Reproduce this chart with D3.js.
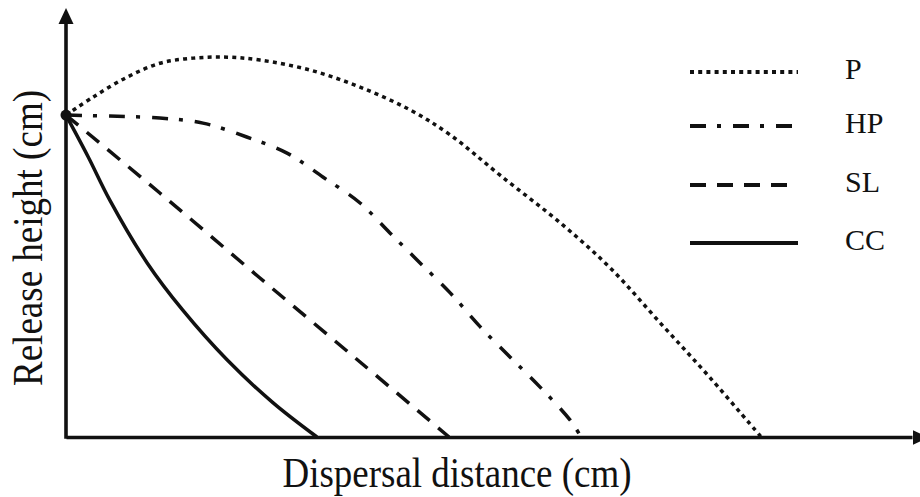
<!DOCTYPE html>
<html>
<head>
<meta charset="utf-8">
<script src="https://cdn.jsdelivr.net/npm/d3@7"></script>
<style>
  html, body { margin: 0; padding: 0; background: #fff; }
  text { font-family: "Liberation Serif", "Times New Roman", serif; fill: #111; }
</style>
</head>
<body>
<div id="chart_div"></div>
<script>
// curves: distance and height in relative units (release height = 100)
var P_x  = [0, 3.9, 8.8, 13.5, 18.3, 23.2, 27.9, 35.1, 42.3, 49.5, 55.3, 62.4, 71.5, 78.3, 85.5, 92.7, 100];
var P_y  = [100, 105.6, 111.8, 116.1, 117.7, 118.0, 117.1, 114.0, 108.7, 101.6, 93.8, 81.4, 65.8, 52.5, 35.4, 18.3, 0];
var HP_x = [0, 6.3, 13.5, 19.7, 26.0, 31.8, 37.0, 42.3, 46.6, 50.5, 55.3, 59.6, 63.9, 68.2, 72.5, 74.1];
var HP_y = [100, 99.7, 99.1, 97.5, 93.2, 88.2, 80.7, 72.7, 63.4, 55.0, 44.7, 34.2, 24.8, 15.5, 5.3, 0];
var SL_x = [0, 13.5, 27.9, 42.3, 55.1];
var SL_y = [100, 75.8, 49.4, 23.3, 0];
var CC_x = [0, 3.2, 6.3, 11.7, 16.8, 23.2, 29.8, 36.1];
var CC_y = [100, 87.0, 73.6, 54.0, 39.4, 23.9, 10.6, 0];

var series_names = ['P', 'HP', 'SL', 'CC'];
var series_x = [P_x, HP_x, SL_x, CC_x];
var series_y = [P_y, HP_y, SL_y, CC_y];
var series_dash = ['4,4.2', '16,11,4,12', '16,11', null];

var x_title = 'Dispersal distance (cm)';
var y_title = 'Release height (cm)';

var w = 920, h = 497;

var chart = d3.select('#chart_div')
    .append('svg')
    .attr('width', w)
    .attr('height', h);

// axes run past the data, up to the arrow heads
var x = d3.scaleLinear().domain([0, 121.7]).range([66, 912]);
var y = d3.scaleLinear().domain([0, 128.3]).range([437, 24]);

var defs = chart.append('defs');
defs.append('marker')
    .attr('id', 'arrow')
    .attr('markerUnits', 'userSpaceOnUse')
    .attr('viewBox', '0 -8 16 16')
    .attr('refX', 0)
    .attr('refY', 0)
    .attr('markerWidth', 16)
    .attr('markerHeight', 16)
    .attr('orient', 'auto')
    .append('path')
    .attr('d', 'M0,-7.5L16,0L0,7.5Z')
    .attr('fill', '#111');

var xAxis = chart.append('g')
    .attr('transform', 'translate(0,' + y(0) + ')')
    .call(d3.axisBottom(x).tickValues([]).tickSizeOuter(0));
xAxis.select('.domain')
    .attr('stroke', '#111')
    .attr('stroke-width', 3.6)
    .attr('marker-end', 'url(#arrow)');

var yAxis = chart.append('g')
    .attr('transform', 'translate(' + x(0) + ',0)')
    .call(d3.axisLeft(y).tickValues([]).tickSizeOuter(0));
yAxis.select('.domain')
    .attr('d', 'M0,' + (y(0) + 1.8) + 'V' + y(y.domain()[1]))
    .attr('stroke', '#111')
    .attr('stroke-width', 3.6)
    .attr('marker-end', 'url(#arrow)');

var line = d3.line()
    .x(function(d) { return x(d[0]); })
    .y(function(d) { return y(d[1]); })
    .curve(d3.curveCatmullRom.alpha(0.5));

for (var i = 0; i < series_names.length; i++) {
    var pts = d3.zip(series_x[i], series_y[i]);
    chart.append('path')
        .datum(pts)
        .attr('d', line)
        .attr('fill', 'none')
        .attr('stroke', '#111')
        .attr('stroke-width', 3.5)
        .attr('stroke-dasharray', series_dash[i]);
}

// release point
chart.append('circle')
    .attr('cx', x(0))
    .attr('cy', y(100))
    .attr('r', 5.5)
    .attr('fill', '#111');

// legend
var legend_y = [72, 126, 185, 243];
for (var i = 0; i < series_names.length; i++) {
    chart.append('line')
        .attr('x1', 690)
        .attr('x2', 798)
        .attr('y1', legend_y[i])
        .attr('y2', legend_y[i])
        .attr('stroke', '#111')
        .attr('stroke-width', 3.8)
        .attr('stroke-dasharray', series_dash[i]);
    chart.append('text')
        .attr('x', 845)
        .attr('y', legend_y[i] + 7)
        .style('font-size', '30px')
        .text(series_names[i]);
}

chart.append('text')
    .attr('x', 457)
    .attr('y', 487)
    .attr('text-anchor', 'middle')
    .attr('textLength', 349)
    .attr('lengthAdjust', 'spacingAndGlyphs')
    .style('font-size', '42px')
    .text(x_title);

chart.append('text')
    .attr('transform', 'translate(42,238) rotate(-90)')
    .attr('text-anchor', 'middle')
    .attr('textLength', 296)
    .attr('lengthAdjust', 'spacingAndGlyphs')
    .style('font-size', '42px')
    .text(y_title);
</script>
</body>
</html>
